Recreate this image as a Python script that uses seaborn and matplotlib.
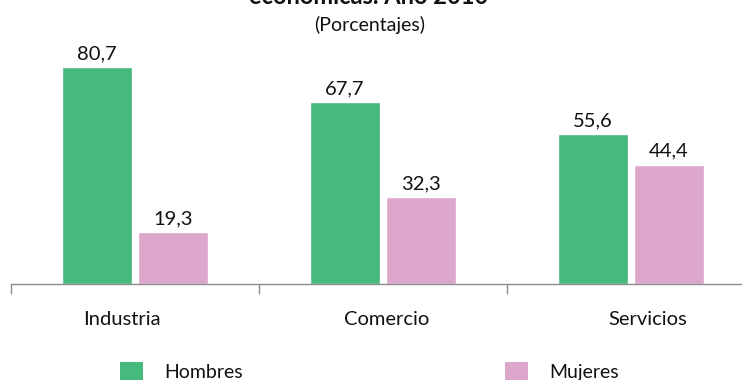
import numpy as np
import pandas as pd
import matplotlib
matplotlib.use("Agg")
import matplotlib.pyplot as plt
import matplotlib.transforms as mtransforms
from matplotlib.patches import Patch
import seaborn as sns

# datos
sectores = ['Industria', 'Comercio', 'Servicios']
hombres = [80.7, 67.7, 55.6]
mujeres = [19.3, 32.3, 44.4]
series = ['Hombres', 'Mujeres']
colores = ['#46B97C', '#DDA6CB']

titulo = 'económicas. Año 2010'
subtitulo = '(Porcentajes)'

df = pd.DataFrame({
    'sector': sectores * 2,
    'sexo': ['Hombres'] * 3 + ['Mujeres'] * 3,
    'valor': hombres + mujeres,
})

sns.set_theme(style='white')
plt.rcParams['font.family'] = ['Lato', 'DejaVu Sans']

fig = plt.figure(figsize=(7.42, 3.80), dpi=100)
ax = fig.add_axes([11 / 742, 1 - 284 / 380, 744 / 742, 244 / 380])

sns.barplot(data=df, x='sector', y='valor', hue='sexo', order=sectores,
            hue_order=series, palette=colores, width=0.612, gap=0.078,
            saturation=1, ax=ax, legend=False)

for cont in ax.containers:
    ax.bar_label(cont, labels=[f'{v:.1f}'.replace('.', ',') for v in cont.datavalues],
                 padding=3.5, fontsize=14.5, color='#111111')

ax.set_xlim(-0.5, 2.5)
ax.set_ylim(0, 90.7)
ax.set_xlabel('')
ax.set_ylabel('')
ax.set_yticks([])
for s in ['left', 'right', 'top']:
    ax.spines[s].set_visible(False)
ax.spines['bottom'].set_color('#8c8c8c')
ax.spines['bottom'].set_linewidth(1)

ax.set_xticks([-0.5, 0.5, 1.5, 2.5])
ax.set_xticklabels([])
ax.tick_params(axis='x', which='major', length=7, width=1, color='#8c8c8c', bottom=True)
ax.set_xticks([0, 1, 2], minor=True)
ax.set_xticklabels(sectores, minor=True, fontsize=14.5, color='#111111')
ax.tick_params(axis='x', which='minor', length=0, pad=19.5)

# el rotulo de cada categoria no queda centrado del todo, como en el original
desplaz = [-13, 4, 17]
for lab, dx in zip(ax.get_xticklabels(minor=True), desplaz):
    lab.set_transform(lab.get_transform() +
                      mtransforms.ScaledTranslation(dx / 100, 0, fig.dpi_scale_trans))

fig.text(369 / 742, 1 - 4 / 380, titulo, ha='center', va='baseline',
         fontsize=17, fontweight='bold', color='#111111')
fig.text(370 / 742, 1 - 25 / 380, subtitulo, ha='center', va='center',
         fontsize=14, color='#111111')

handles = [Patch(facecolor=c, edgecolor='none') for c in colores]
fig.legend(handles, series, loc='upper left', bbox_to_anchor=(120 / 742, 1 - 362 / 380),
           ncol=2, frameon=False, fontsize=14, handlelength=1.19, handleheight=1.19,
           handletextpad=1.08, columnspacing=13.5, borderpad=0, borderaxespad=0,
           labelcolor='#111111')

fig.savefig('out.png', dpi=100)
